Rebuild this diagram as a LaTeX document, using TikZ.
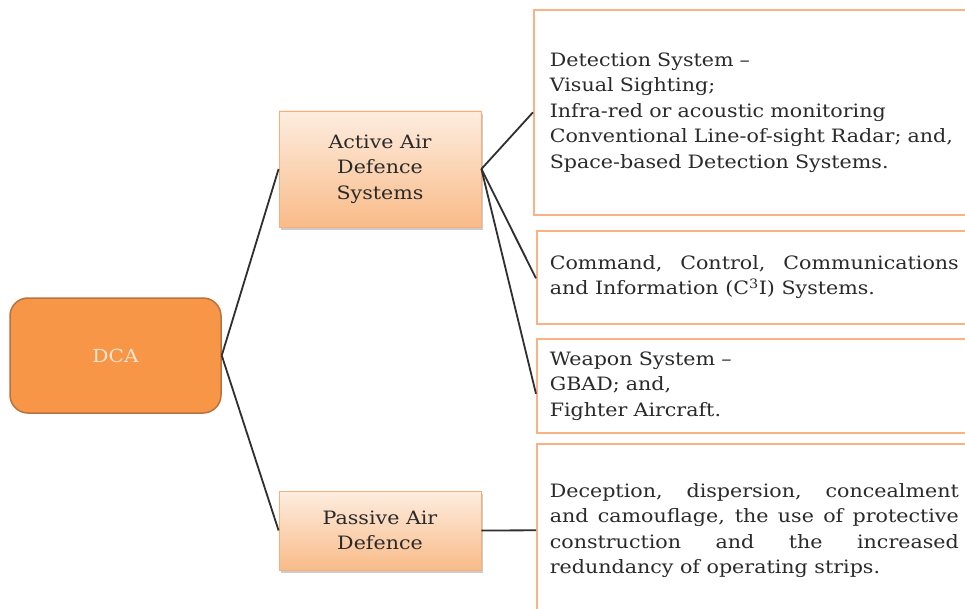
\documentclass[tikz,border=0pt]{standalone}
\usepackage{fontspec}
\setmainfont[FakeStretch=1.12]{DejaVu Serif}
\usetikzlibrary{shadows}
\definecolor{dcafill}{HTML}{F79646}
\definecolor{dcaedge}{HTML}{B9723E}
\definecolor{dcatext}{HTML}{FCE4D2}
\definecolor{peachtop}{HTML}{FDEDE0}
\definecolor{peachbot}{HTML}{F9BB88}
\definecolor{peachedge}{HTML}{F6AE7C}
\definecolor{rboxedge}{HTML}{F9B285}
\definecolor{linkc}{HTML}{2F2F2F}
\definecolor{txt}{HTML}{2A2A2A}
\tikzset{
  bodyfont/.style={font=\fontsize{18.4}{25.5}\selectfont},
  dcabox/.style={draw=dcaedge, line width=1.5pt, fill=dcafill, rounded corners=18pt,
    minimum width=211pt, minimum height=115pt, text=dcatext, font=\fontsize{18}{20}\selectfont, inner sep=0pt},
  midbox/.style={draw=peachedge, line width=0.8pt, top color=peachtop, bottom color=peachbot,
    minimum width=202pt, text=txt, bodyfont, align=center, inner sep=0pt,
    drop shadow={opacity=0.4, shadow xshift=1.5pt, shadow yshift=-3pt}},
  rbox/.style={draw=rboxedge, line width=1.6pt, fill=white, text=txt, bodyfont,
    text width=409pt, inner ysep=0pt, anchor=north west},
  link/.style={draw=linkc, line width=1.8pt},
}
\begin{document}
\begin{tikzpicture}[x=1pt, y=-1pt]
\clip (0,0) rectangle (965,609);
\fill[white] (0,0) rectangle (965,609);
\node[dcabox] (dca) at (115.5,355.5) {DCA};
\node[midbox, minimum height=116pt] (act) at (380,169) {Active Air\\Defence\\Systems};
\node[midbox, minimum height=79pt] (pas) at (380,530.5) {Passive Air\\Defence};
\node[rbox, inner xsep=16pt, minimum height=205pt, align=left] (det) at (533,9)
  {Detection System –\\Visual Sighting;\\Infra-red or acoustic monitoring\\Conventional Line-of-sight Radar; and,\\Space-based Detection Systems.};
\node[rbox, inner xsep=13pt, minimum height=93pt, align=justify] (cmd) at (536,230)
  {Command, Control, Communications\linebreak and Information (C\textsuperscript{3}I) Systems.};
\node[rbox, inner xsep=13pt, minimum height=94pt, align=left] (wpn) at (536,338)
  {Weapon System –\\GBAD; and,\\Fighter Aircraft.};
\node[rbox, inner xsep=13pt, minimum height=173pt, align=justify] (dec) at (536,443)
  {Deception, dispersion, concealment\linebreak and camouflage, the use of protective\linebreak construction and the increased\linebreak redundancy of operating strips.};
\draw[link] (dca.east) -- (act.west);
\draw[link] (dca.east) -- (pas.west);
\draw[link] (act.east) -- (det.west);
\draw[link] (act.east) -- ([yshift=-1pt]cmd.west);
\draw[link] (act.east) -- ([yshift=-8pt]wpn.west);
\draw[link] (pas.east) -- (dec.west);
\end{tikzpicture}
\end{document}
